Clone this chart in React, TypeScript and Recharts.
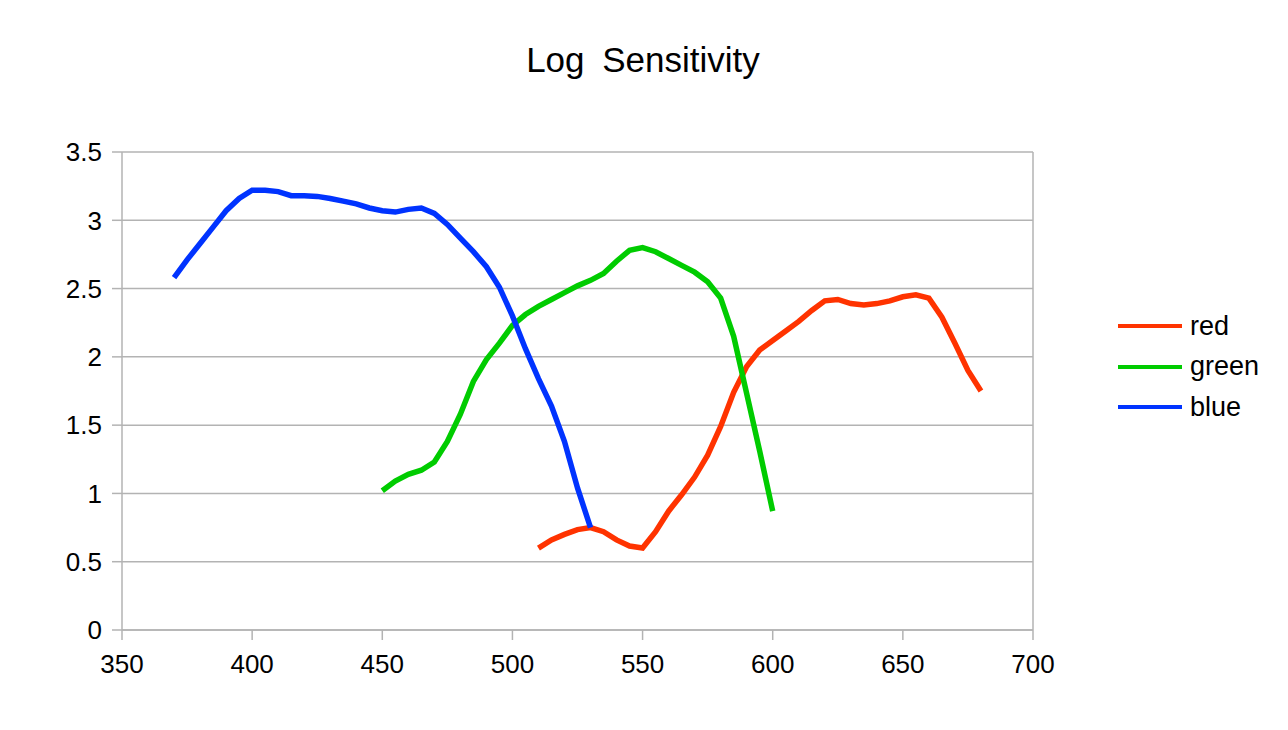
import { LineChart, Line, XAxis, YAxis, CartesianGrid, ReferenceLine } from 'recharts'

const blueNm = [370, 375, 380, 385, 390, 395, 400, 405, 410, 415, 420, 425, 430, 435, 440, 445, 450, 455, 460, 465, 470, 475, 480, 485, 490, 495, 500, 505, 510, 515, 520, 525, 530]
const blueVals = [2.58, 2.71, 2.83, 2.95, 3.07, 3.16, 3.22, 3.22, 3.21, 3.18, 3.18, 3.175, 3.16, 3.14, 3.12, 3.09, 3.07, 3.06, 3.08, 3.09, 3.05, 2.97, 2.87, 2.77, 2.66, 2.51, 2.3, 2.06, 1.84, 1.64, 1.38, 1.04, 0.75]

const greenNm = [450, 455, 460, 465, 470, 475, 480, 485, 490, 495, 500, 505, 510, 515, 520, 525, 530, 535, 540, 545, 550, 555, 560, 565, 570, 575, 580, 585, 590, 595, 600]
const greenVals = [1.02, 1.09, 1.14, 1.17, 1.23, 1.38, 1.58, 1.82, 1.98, 2.1, 2.23, 2.31, 2.37, 2.42, 2.47, 2.52, 2.56, 2.61, 2.7, 2.78, 2.8, 2.77, 2.72, 2.67, 2.62, 2.55, 2.43, 2.15, 1.73, 1.31, 0.87]

const redNm = [510, 515, 520, 525, 530, 535, 540, 545, 550, 555, 560, 565, 570, 575, 580, 585, 590, 595, 600, 605, 610, 615, 620, 625, 630, 635, 640, 645, 650, 655, 660, 665, 670, 675, 680]
const redVals = [0.6, 0.66, 0.7, 0.735, 0.75, 0.72, 0.66, 0.615, 0.6, 0.72, 0.87, 0.99, 1.12, 1.28, 1.49, 1.74, 1.93, 2.05, 2.12, 2.19, 2.26, 2.34, 2.41, 2.42, 2.39, 2.38, 2.39, 2.41, 2.44, 2.455, 2.43, 2.29, 2.1, 1.9, 1.75]

const xTicks = [350, 400, 450, 500, 550, 600, 650, 700]
const yTicks = [0, 0.5, 1, 1.5, 2, 2.5, 3, 3.5]

const toPoints = (nm: number[], vals: number[]) => nm.map((x, i) => ({ x, v: vals[i] }))

const series = [
  { name: 'red', color: '#ff3300', data: toPoints(redNm, redVals) },
  { name: 'green', color: '#00cc00', data: toPoints(greenNm, greenVals) },
  { name: 'blue', color: '#0033ff', data: toPoints(blueNm, blueVals) },
]

const font = '"Liberation Sans", Arial, sans-serif'
const grey = '#b3b3b3'

export default function App() {
  return (
    <div style={{ position: 'relative', width: 1272, height: 714, fontFamily: font }}>
      <div style={{ position: 'absolute', top: 32, left: 0, width: 1270, textAlign: 'center', fontSize: 35, color: '#000', wordSpacing: 8 }}>
        Log Sensitivity
      </div>
      <LineChart width={1272} height={700} margin={{ top: 144, right: 247, bottom: 28, left: 14 }}>
        <CartesianGrid vertical={false} stroke={grey} strokeWidth={1.5} />
        <XAxis
          type="number"
          dataKey="x"
          domain={[350, 700]}
          ticks={xTicks}
          height={50}
          stroke={grey}
          strokeWidth={1.5}
          tickSize={10}
          tickMargin={15}
          tick={{ fill: '#000', fontSize: 26, fontFamily: font }}
        />
        <YAxis
          type="number"
          domain={[0, 3.5]}
          ticks={yTicks}
          width={100}
          stroke={grey}
          strokeWidth={1.5}
          tickSize={10}
          tickMargin={10}
          tick={{ fill: '#000', fontSize: 26, fontFamily: font }}
        />
        <ReferenceLine x={700} stroke={grey} strokeWidth={1.5} />
        {series.map((s) => (
          <Line
            key={s.name}
            data={s.data}
            dataKey="v"
            name={s.name}
            stroke={s.color}
            strokeWidth={5.5}
            dot={false}
            type="linear"
            isAnimationActive={false}
          />
        ))}
      </LineChart>
      <div style={{ position: 'absolute', left: 1110, top: 298 }}>
        {series.map((s) => (
          <div key={s.name} style={{ display: 'flex', alignItems: 'center', height: 40.5 }}>
            <div style={{ width: 64, height: 4, background: s.color, marginRight: 8 }} />
            <span style={{ fontSize: 27, color: '#000' }}>{s.name}</span>
          </div>
        ))}
      </div>
    </div>
  )
}
